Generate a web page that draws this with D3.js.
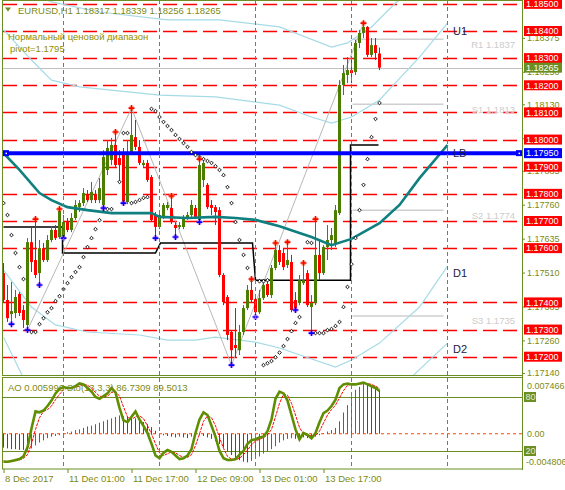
<!DOCTYPE html>
<html><head><meta charset="utf-8">
<script src="https://cdn.jsdelivr.net/npm/d3@7/dist/d3.min.js"></script>
<style>
html,body{margin:0;padding:0;background:#fff;}
svg{display:block;}
svg text{font-family:"Liberation Sans",Arial,sans-serif;}
</style></head><body>
<svg id="chart" width="565" height="490"></svg>
<script>
// ---------------- DATA ----------------
const firstBar = -15; // bar index relative to 11 Dec 00:00 (H1)
const barOpen = [1.17508,1.17409,1.17357,1.17361,1.17431,1.17372,1.17317,1.17622,1.17556,1.17508,1.17600,1.17556,1.17630,1.17667,1.17641,
1.17641,1.17696,1.17667,1.17711,1.17751,1.17766,1.17799,1.17777,1.17799,1.17777,1.17759,1.17888,1.17925,1.17980,1.17932,
1.17950,1.17770,1.17950,1.18009,1.17973,1.17906,1.17914,1.17862,1.17722,1.17678,1.17715,1.17748,1.17748,1.17685,1.17678,
1.17678,1.17711,1.17722,1.17748,1.17704,1.17851,1.17833,1.17759,1.17751,1.17740,1.17501,1.17420,1.17291,1.17243,1.17224,
1.17291,1.17379,1.17446,1.17412,1.17364,1.17416,1.17468,1.17427,1.17527,1.17593,1.17582,1.17538,1.17549,1.17409,1.17398,
1.17471,1.17508,1.17383,1.17398,1.17575,1.17508,1.17604,1.17630,1.17619,1.17729,1.18201,1.18238,1.18256,1.18249,1.18356,
1.18393,1.18415,1.18312,1.18348,1.18317];
const barHigh = [1.17545,1.17464,1.17475,1.17446,1.17438,1.17390,1.17637,1.17674,1.17707,1.17630,1.17619,1.17648,1.17681,1.17685,1.17744,
1.17722,1.17711,1.17729,1.17777,1.17777,1.17821,1.17814,1.17844,1.17814,1.17858,1.17961,1.17998,1.18006,1.18028,1.17961,
1.17969,1.17998,1.18116,1.18072,1.17998,1.17925,1.17925,1.17869,1.17733,1.17733,1.17766,1.17770,1.17792,1.17696,1.17696,
1.17722,1.17733,1.17777,1.17759,1.17928,1.17925,1.17840,1.17777,1.17759,1.17751,1.17508,1.17427,1.17298,1.17379,1.17317,
1.17390,1.17464,1.17486,1.17427,1.17446,1.17482,1.17482,1.17538,1.17619,1.17611,1.17600,1.17622,1.17575,1.17438,1.17501,
1.17545,1.17519,1.17427,1.17707,1.17630,1.17611,1.17685,1.17674,1.17759,1.18219,1.18275,1.18304,1.18293,1.18367,1.18404,
1.18429,1.18418,1.18374,1.18374,1.18339];
const barLow = [1.17401,1.17328,1.17320,1.17342,1.17350,1.17306,1.17298,1.17512,1.17490,1.17464,1.17549,1.17549,1.17622,1.17630,1.17634,
1.17634,1.17659,1.17659,1.17704,1.17733,1.17755,1.17770,1.17766,1.17766,1.17766,1.17744,1.17869,1.17906,1.17895,1.17844,
1.17762,1.17762,1.17943,1.17961,1.17906,1.17899,1.17844,1.17696,1.17637,1.17670,1.17707,1.17740,1.17689,1.17641,1.17670,
1.17670,1.17704,1.17715,1.17707,1.17696,1.17825,1.17744,1.17722,1.17685,1.17493,1.17390,1.17261,1.17169,1.17198,1.17206,
1.17280,1.17372,1.17398,1.17346,1.17357,1.17409,1.17420,1.17416,1.17519,1.17538,1.17519,1.17527,1.17364,1.17364,1.17390,
1.17464,1.17383,1.17287,1.17390,1.17482,1.17501,1.17556,1.17593,1.17604,1.17722,1.18164,1.18208,1.18208,1.18238,1.18337,
1.18374,1.18304,1.18304,1.18293,1.18256];
const barClose = [1.17409,1.17342,1.17368,1.17420,1.17361,1.17335,1.17622,1.17549,1.17501,1.17600,1.17556,1.17630,1.17667,1.17637,1.17737,
1.17696,1.17667,1.17711,1.17759,1.17766,1.17803,1.17777,1.17807,1.17777,1.17821,1.17936,1.17969,1.17980,1.17906,1.17906,
1.17766,1.17950,1.18017,1.17973,1.17914,1.17914,1.17851,1.17704,1.17678,1.17722,1.17759,1.17759,1.17696,1.17674,1.17685,
1.17711,1.17722,1.17759,1.17715,1.17906,1.17914,1.17751,1.17748,1.17733,1.17501,1.17401,1.17280,1.17224,1.17232,1.17291,
1.17379,1.17446,1.17409,1.17364,1.17416,1.17464,1.17427,1.17527,1.17593,1.17549,1.17530,1.17556,1.17372,1.17372,1.17482,
1.17482,1.17390,1.17398,1.17575,1.17508,1.17604,1.17630,1.17648,1.17740,1.18201,1.18245,1.18256,1.18245,1.18356,1.18393,
1.18415,1.18312,1.18348,1.18319,1.18265];

// Awesome Oscillator per bar
const aoValues = [-0.0019,-0.0020,-0.0021,-0.0021,-0.0022,-0.0022,-0.0023,
-0.0020,-0.0016,-0.0012,-0.0009,-0.0006,-0.0004,-0.0003,-0.0002,
0.0001,0.0002,0.0003,0.0005,0.0006,0.0008,0.0010,0.0011,0.0013,0.0015,0.0017,0.0019,0.0021,0.0023,0.0025,
0.0024,0.0023,0.0022,0.0021,0.0019,0.0016,0.0013,0.0009,0.0004,0.0000,
-0.0002,-0.0003,-0.0004,-0.0005,-0.0004,-0.0005,-0.0006,-0.0004,-0.0003,-0.0002,
-0.0003,-0.0005,-0.0007,-0.0010,-0.0014,-0.0019,-0.0024,-0.0029,-0.0033,-0.0036,-0.0038,-0.0039,
-0.0037,-0.0034,-0.0031,-0.0027,-0.0024,-0.0021,-0.0017,-0.0012,-0.0009,
-0.0007,-0.0006,-0.0007,-0.0006,-0.0005,-0.0006,-0.0005,-0.0004,-0.0002,
0.0001,0.0003,0.0005,0.0008,0.0017,0.0029,0.0039,0.0051,0.0060,0.0064,0.0068,0.00675,0.0065,0.0063,0.005996];
// Stochastic(13,3,3)
const stochMain = [8,8,9,10,11,14,24,45,64,63,65,70,76,84,89,
91,90,90,92,95,94,90,86,80,78,81,84,90,85,68,
54,52,58,64,55,48,40,28,15,12,18,21,19,15,11,
12,15,22,40,55,63,60,48,36,20,12,10,10,11,16,
20,28,32,33,35,36,42,55,78,86,84,76,60,44,33,
40,38,34,40,52,62,65,70,77,90,94,95,94,94,95,
96,94,92,90,86.7309];
const stochSignal = [9,8,8,9,10,12,16,28,44,57,64,66,70,77,83,
88,90,90,91,92,94,93,90,85,81,80,81,85,86,81,
69,58,55,58,59,56,48,39,28,18,15,17,19,18,15,
13,13,16,26,39,53,59,57,48,35,23,14,11,10,12,
16,21,27,31,33,35,38,44,58,73,83,82,73,60,46,
39,37,37,37,42,51,60,66,71,79,87,93,94,94,94,
95,95,94,92,89.5013];

// Parabolic SAR dots
const sarBar = [-15,-14,-13,-12,-11,-10,-8,-7,-6,-5,-4,-3,-2,-1,0,1,2,3,4,5,6,7,8,9,10,11,12,14,15,16,17,18,19,20,21,
22,23,24,25,26,27,28,29,30,31,32,33,34,35,36,37,38,39,40,41,42,43,44,45,46,47,49,50,51,
50,51,52,53,54,55,56,57,58,59,61,62,63,64,65,66,67,68,69,70,71,72,73,74,75,76,77,78,79];
const sarValue = [1.17766,1.17722,1.17648,1.17582,1.17530,1.17486,1.17291,1.17291,1.17320,1.17342,1.17364,1.17379,1.17405,1.17423,1.17449,1.17471,1.17493,1.17512,1.17530,1.17567,1.17604,1.17637,1.17670,1.17703,1.17744,1.17744,1.17744,1.17844,1.18024,1.18024,1.17766,1.17770,1.17777,1.17785,1.17788,
1.18113,1.18105,1.18083,1.18065,1.18050,1.18035,1.18017,1.18002,1.17987,1.17973,1.17954,1.17943,1.17936,1.17928,1.17921,1.17914,1.17902,1.17888,1.17869,1.17825,1.17766,1.17696,1.17630,1.17575,1.17527,1.17482,1.17478,1.17478,1.17482,
1.17169,1.17176,1.17184,1.17198,1.17215,1.17239,1.17265,1.17294,1.17324,1.17346,1.17622,1.17619,1.17287,1.17287,1.17287,1.17298,1.17302,1.17313,1.17328,1.17383,1.17457,1.17541,1.17637,1.17740,1.17833,1.17928,1.18009,1.18076,1.18135];

// Fractals
const upFractalBar = [-7,-1,13,17,27,34,47,53,56,60,63,75];
const upFractalValue = [1.17707,1.17744,1.18028,1.18116,1.17792,1.17928,1.17486,1.17619,1.17622,1.17545,1.17707,1.18429];
const downFractalBar = [-13,-9,-6,0,10,15,23,28,34,42,48,58,62];
const downFractalValue = [1.17320,1.17298,1.17464,1.17637,1.17748,1.17766,1.17637,1.17641,1.17696,1.17169,1.17346,1.17372,1.17287];

// Moving average (teal)
const maBar = [-15,-11,-6,-3,1,6,12,22,24,31,38,43,48,54,59,62,67,72,79,84,89,96];
const maValue = [1.17950,1.17888,1.17803,1.17777,1.17751,1.17740,1.17729,1.17729,1.17715,1.17711,1.17715,1.17711,1.17704,1.17681,1.17656,1.17641,1.17611,1.17634,1.17692,1.17759,1.17858,1.17980];

// "Normal price range" channel bands (light blue)
const bandABar = [-6,-3,9,26,39,54,67,71,77,83,86];
const bandAValue = [1.18525,1.18507,1.18470,1.18441,1.18441,1.18415,1.18341,1.18356,1.18415,1.18503,1.18536];
const bandBBar = [-15,-8,-3,4,24,38,54,62,67,72,79,89,96];
const bandBValue = [1.18404,1.18293,1.18219,1.18194,1.18164,1.18157,1.18127,1.18083,1.18061,1.18083,1.18146,1.18304,1.18429];
const bandCBar = [-15,-8,-2,6,19,26,33,38,48,54,68,72,79,89,96];
const bandCValue = [1.17519,1.17383,1.17317,1.17291,1.17280,1.17261,1.17261,1.17272,1.17254,1.17232,1.17162,1.17188,1.17250,1.17383,1.17534];
const bandDBar = [-15,-10,-5,40,80,87,96];
const bandDValue = [1.17272,1.17121,1.16967,1.16900,1.16967,1.17125,1.17250];

// Daily level (black step line)
const stepBar = [-15,-0.25,-0.25,23,24.25,47.25,48,71.75,71.75,78.75];
const stepValue = [1.17678,1.17678,1.17582,1.17582,1.17619,1.17619,1.17482,1.17482,1.17980,1.17980];

// ZigZag (grey)
const zigBar = [-9,17,42,75];
const zigValue = [1.17298,1.18116,1.17169,1.18429];

// Pivot levels
const pivotValue = 1.1795;
const pivotLevelNames = ["R1","S1","S2","S3"];
const pivotLevelValues = [1.1837,1.1813,1.1774,1.1735];
const pivotLevelFrom = 72.25, pivotLevelTo = 95;
const channelLabels = ["U1","LB","D1","D2"];
const channelLabelValues = [1.18400,1.17950,1.17510,1.17230];

// Levels & axis
const roundLevels = [1.185,1.184,1.183,1.182,1.181,1.180,1.179,1.178,1.177,1.176,1.174,1.173,1.172];
const priceTicks = [1.18375,1.18250,1.18130,1.18005,1.17885,1.17760,1.17635,1.17510,1.17385,1.17260,1.17140];
const lastPrice = 1.18265;
const daySeparators = [0,24,48,72,96];
const timeTickBars = [-15,1,17,33,49,65];
const timeTickLabels = ["8 Dec 2017","11 Dec 01:00","11 Dec 17:00","12 Dec 09:00","13 Dec 01:00","13 Dec 17:00"];
const aoScaleMax = 0.007466, aoScaleMin = -0.004806;
const stochLevels = [80,20];

// ---------------- DRAW ----------------
const OLIVE = "#6b8e23", OTEXT = "#7d8a14", BULL = "#4b7d00", BEAR = "#ff0000";
const svg = d3.select("#chart");
const x = d3.scaleLinear().domain([-15,115]).range([3.5,523.5]);
const y = d3.scaleLinear().domain([1.184,1.172]).range([31,356.7]);
const yS = d3.scaleLinear().domain([0,100]).range([469,379]);
const yA = d3.scaleLinear().domain([aoScaleMin,aoScaleMax]).range([469,379]);

const defs = svg.append("defs");
defs.append("clipPath").attr("id","cm").append("rect").attr("x",3).attr("y",0).attr("width",519).attr("height",375);
defs.append("clipPath").attr("id","ci").append("rect").attr("x",3).attr("y",378).attr("width",519).attr("height",91);

const main = svg.append("g").attr("clip-path","url(#cm)");
const ind = svg.append("g").attr("clip-path","url(#ci)");

// day separators
svg.append("g").selectAll("line").data(daySeparators).join("line")
  .attr("x1",d=>x(d)).attr("x2",d=>x(d)).attr("y1",0).attr("y2",469)
  .attr("stroke",OLIVE).attr("stroke-dasharray","4,3").attr("stroke-width",1);

// round levels
main.append("g").selectAll("line").data(roundLevels).join("line")
  .attr("x1",3).attr("x2",522).attr("y1",d=>Math.round(y(d))+0.5).attr("y2",d=>Math.round(y(d))+0.5)
  .attr("stroke","#ff0000").attr("stroke-width",1.6).attr("stroke-dasharray","14,6");

// last price line
main.append("line").attr("x1",3).attr("x2",522).attr("y1",Math.round(y(lastPrice))+0.5).attr("y2",Math.round(y(lastPrice))+0.5)
  .attr("stroke","#c0c0c0").attr("stroke-width",1);

// pivot short lines
main.append("g").selectAll("line").data(pivotLevelValues).join("line")
  .attr("x1",x(pivotLevelFrom)).attr("x2",x(pivotLevelTo)).attr("y1",d=>y(d)).attr("y2",d=>y(d))
  .attr("stroke","#cfcfcf").attr("stroke-width",1.5);
main.append("g").selectAll("text").data(pivotLevelValues).join("text")
  .attr("x",515).attr("y",d=>y(d)+8.5).attr("text-anchor","end").attr("fill","#cccccc").style("font-size","9.5px")
  .text((d,i)=>pivotLevelNames[i]+" "+d.toFixed(4));

const line = d3.line().x(d=>x(d[0])).y(d=>y(d[1]));
const pairs = (b,v)=>b.map((k,i)=>[k,v[i]]);

// bands
[[bandABar,bandAValue],[bandBBar,bandBValue],[bandCBar,bandCValue],[bandDBar,bandDValue]].forEach(([b,v])=>{
  main.append("path").attr("d",line(pairs(b,v))).attr("fill","none").attr("stroke","#a6dbe6").attr("stroke-width",1.2);
});

// zigzag
main.append("path").attr("d",line(pairs(zigBar,zigValue))).attr("fill","none").attr("stroke","#b8b8b8").attr("stroke-width",1);

// step line
main.append("path").attr("d",line(pairs(stepBar,stepValue))).attr("fill","none").attr("stroke","#000").attr("stroke-width",1.5);

// candles
const bars = barOpen.map((o,i)=>({k:firstBar+i,o:o,h:barHigh[i],l:barLow[i],c:barClose[i]}));
const cg = main.append("g");
cg.selectAll("line").data(bars).join("line")
  .attr("x1",d=>x(d.k)).attr("x2",d=>x(d.k)).attr("y1",d=>y(d.h)).attr("y2",d=>y(d.l))
  .attr("stroke",d=>d.c>=d.o?BULL:BEAR).attr("stroke-width",1);
cg.selectAll("rect").data(bars).join("rect")
  .attr("x",d=>x(d.k)-1.5).attr("width",3)
  .attr("y",d=>y(Math.max(d.o,d.c))).attr("height",d=>Math.max(1,Math.abs(y(d.o)-y(d.c))))
  .attr("fill",d=>d.c>=d.o?BULL:BEAR);

// moving average
main.append("path").attr("d",line(pairs(maBar,maValue))).attr("fill","none").attr("stroke","#0f7f7f").attr("stroke-width",2.6);

// pivot line
main.append("line").attr("x1",3).attr("x2",522).attr("y1",y(pivotValue)).attr("y2",y(pivotValue))
  .attr("stroke","#0000ff").attr("stroke-width",4);
[6,519].forEach(px=>{
  main.append("rect").attr("x",px-3).attr("y",y(pivotValue)-3).attr("width",6).attr("height",6).attr("fill","#0000ff");
  main.append("rect").attr("x",px-0.5).attr("y",y(pivotValue)-0.5).attr("width",1.5).attr("height",1.5).attr("fill","#fff");
});

// SAR
main.append("g").selectAll("path").data(pairs(sarBar,sarValue)).join("path")
  .attr("transform",d=>`translate(${x(d[0])},${y(d[1])})`)
  .attr("d","M0,-1.8L1.8,0L0,1.8L-1.8,0Z").attr("fill","#fff").attr("stroke","#000").attr("stroke-width",0.9);

// fractals
const fu = main.append("g").selectAll("g").data(pairs(upFractalBar,upFractalValue)).join("g")
  .attr("transform",d=>`translate(${x(d[0])},${y(d[1])})`);
fu.append("path").attr("d","M-2,-2L2,2M-2,2L2,-2").attr("stroke","#ffa040").attr("stroke-width",1.2);
fu.append("path").attr("d","M-3,0H3M0,-3V3").attr("stroke","#ff0000").attr("stroke-width",1.6);
const fd = main.append("g").selectAll("g").data(pairs(downFractalBar,downFractalValue)).join("g")
  .attr("transform",d=>`translate(${x(d[0])},${y(d[1])})`);
fd.append("path").attr("d","M-2,-2L2,2M-2,2L2,-2").attr("stroke","#ff80e0").attr("stroke-width",1.2);
fd.append("path").attr("d","M-3,0H3M0,-3V3").attr("stroke","#0000ff").attr("stroke-width",1.6);

// channel labels
main.append("g").selectAll("text").data(channelLabelValues).join("text")
  .attr("x",453).attr("y",d=>y(d)+4).attr("fill","#1a1a40").style("font-size","11px")
  .text((d,i)=>channelLabels[i]);

// header texts
svg.append("path").attr("d","M5,7.5L11,7.5L8,11.5Z").attr("fill",OLIVE);
svg.append("text").attr("x",18).attr("y",14).attr("fill",OTEXT).style("font-size","9.5px")
  .text("EURUSD,H1  1.18317 1.18339 1.18256 1.18265");
svg.append("text").attr("x",8).attr("y",39.5).attr("fill","#8f8f00").style("font-size","9.5px").text("Нормальный ценовой диапазон");
svg.append("text").attr("x",10).attr("y",51.5).attr("fill","#8f8f00").style("font-size","9.5px").text(" pivot="+pivotValue);

// indicator panel
ind.append("g").selectAll("line").data(stochLevels).join("line")
  .attr("x1",3).attr("x2",522).attr("y1",d=>Math.round(yS(d))+0.5).attr("y2",d=>Math.round(yS(d))+0.5)
  .attr("stroke",OLIVE).attr("stroke-width",1);
ind.append("line").attr("x1",3).attr("x2",522).attr("y1",yA(0)).attr("y2",yA(0))
  .attr("stroke","#ff4500").attr("stroke-width",1).attr("stroke-dasharray","3,3");
const ao = aoValues.map((v,i)=>({k:firstBar+i,v:v,up:i===0?false:v>aoValues[i-1]}));
ind.append("g").selectAll("line").data(ao).join("line")
  .attr("x1",d=>x(d.k)).attr("x2",d=>x(d.k)).attr("y1",yA(0)).attr("y2",d=>yA(d.v))
  .attr("stroke",d=>d.up?BULL:BEAR).attr("stroke-width",1);
const lineS = d3.line().x((d,i)=>x(firstBar+i)).y(d=>yS(d));
ind.append("path").attr("d",lineS(stochSignal)).attr("fill","none").attr("stroke","#ff0000").attr("stroke-width",1).attr("stroke-dasharray","3,1");
ind.append("path").attr("d",lineS(stochMain)).attr("fill","none").attr("stroke","#5f8f00").attr("stroke-width",2.6);
svg.append("text").attr("x",8).attr("y",391).attr("fill",OTEXT).style("font-size","9.5px")
  .text("AO "+aoValues[aoValues.length-1].toFixed(6)+" Sto(13,3,3) "+stochMain[stochMain.length-1].toFixed(4)+" "+stochSignal[stochSignal.length-1].toFixed(4));

// frames
svg.append("rect").attr("x",2.5).attr("y",0.5).attr("width",520).attr("height",375).attr("fill","none").attr("stroke",OLIVE);
svg.append("rect").attr("x",2.5).attr("y",377.5).attr("width",520).attr("height",91.5).attr("fill","none").attr("stroke",OLIVE);

// right price axis
const ax = svg.append("g").attr("transform","translate(522,0)")
  .call(d3.axisRight(y).tickValues(priceTicks).tickSize(3).tickFormat(d3.format(".5f")));
ax.select(".domain").remove();
ax.selectAll("line").attr("stroke",OLIVE);
ax.selectAll("text").attr("fill",OTEXT).attr("x",5).style("font-size","9px").style("font-family","Liberation Sans, Arial, sans-serif");

const boxes = svg.append("g");
function priceBox(v,fill,txtFill,label){
  boxes.append("rect").attr("x",524).attr("y",y(v)-5).attr("width",38).attr("height",10).attr("fill",fill);
  boxes.append("text").attr("x",526).attr("y",y(v)+3.3).attr("fill",txtFill).style("font-size","9px").text(label);
}
roundLevels.forEach(v=>priceBox(v,"#ff0000","#fff",v.toFixed(5)));
priceBox(pivotValue,"#0000ff","#fff",pivotValue.toFixed(5));
priceBox(lastPrice,"#6b8e23","#fff",lastPrice.toFixed(5));

// indicator axis labels
const ig = svg.append("g").style("font-size","9px");
ig.append("text").attr("x",527).attr("y",389).attr("fill",OTEXT).text(aoScaleMax.toFixed(6));
ig.append("text").attr("x",527).attr("y",yA(0)+3).attr("fill",OTEXT).text("0.00");
ig.append("text").attr("x",526).attr("y",465).attr("fill",OTEXT).text(aoScaleMin.toFixed(6));
stochLevels.forEach(v=>{
  ig.append("rect").attr("x",524).attr("y",yS(v)-5).attr("width",12).attr("height",10).attr("fill","#6b8e23");
  ig.append("text").attr("x",525.5).attr("y",yS(v)+3.3).attr("fill","#e8ecd0").text(v);
});
svg.append("line").attr("x1",522.5).attr("x2",522.5).attr("y1",0).attr("y2",470).attr("stroke",OLIVE);

// time axis
const tx = svg.append("g").attr("transform","translate(0,469)")
  .call(d3.axisBottom(x).tickValues(timeTickBars).tickSize(4).tickFormat((d,i)=>timeTickLabels[i]));
tx.select(".domain").remove();
tx.selectAll("line").attr("stroke",OLIVE);
tx.selectAll("text").attr("fill",OTEXT).attr("text-anchor","start").attr("x",1).attr("y",6).attr("dy","0.71em")
  .style("font-size","9.5px").style("font-family","Liberation Sans, Arial, sans-serif");
</script></body></html>
